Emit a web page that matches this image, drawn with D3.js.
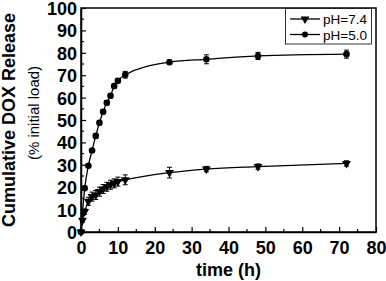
<!DOCTYPE html>
<html>
<head>
<meta charset="utf-8">
<script src="https://cdn.jsdelivr.net/npm/d3@7"></script>
<style>
  body { margin: 0; background: #fff; }
  text { font-family: "Liberation Sans", Arial, sans-serif; }
</style>
</head>
<body>
<svg id="chart" width="386" height="281"></svg>
<script>
// data
var time74 = [0, 0.4, 1, 2, 3, 4, 5, 6, 7, 8, 9, 10, 12, 24, 34, 48, 72];
var rel74  = [0, 5.2, 9.1, 13.7, 15.8, 16.5, 18, 19.2, 20.2, 21.1, 21.7, 22.5, 23.3, 26.5, 28.1, 29.2, 30.6];
var err74  = [0, 0.8, 1.2, 1.8, 2, 2, 2, 2, 2, 2, 2, 2, 2.2, 2.4, 1.2, 1.2, 1.2];
var time50 = [0, 1, 2, 3, 4, 5, 6, 7, 8, 9, 10, 12, 24, 34, 48, 72];
var rel50  = [0, 19.5, 29.6, 36.4, 42.9, 48.8, 53.7, 57.7, 60.8, 65.2, 67.5, 70.2, 75.8, 77.1, 78.6, 79.4];
var err50  = [0, 1, 0.8, 0.8, 1, 1, 1, 1, 1, 1, 1, 1.5, 1, 2, 1.6, 1.8];
var xTicks = [0, 10, 20, 30, 40, 50, 60, 70, 80];
var yTicks = [0, 10, 20, 30, 40, 50, 60, 70, 80, 90, 100];

var margin = {top: 8, right: 10, bottom: 49, left: 81};
var svg = d3.select("#chart");
var width = 386 - margin.left - margin.right;
var height = 281 - margin.top - margin.bottom;
var g = svg.append("g").attr("transform", "translate(" + margin.left + "," + margin.top + ")");

var x = d3.scaleLinear().domain([0, 80]).range([0, width]);
var y = d3.scaleLinear().domain([0, 100]).range([height, 0]);

function pts(t, v, e) {
  return t.map(function(d, i) { return {t: d, v: v[i], e: e[i]}; });
}
var s74 = pts(time74, rel74, err74);
var s50 = pts(time50, rel50, err50);

// frame
g.append("rect")
  .attr("width", width).attr("height", height)
  .attr("fill", "none").attr("stroke", "#000").attr("stroke-width", 1.5);

// minor ticks (inward)
var minorX = d3.range(5, 80, 10);
var minorY = d3.range(5, 100, 10);
g.selectAll(".mx").data(minorX).enter().append("line")
  .attr("x1", function(d) { return x(d); }).attr("x2", function(d) { return x(d); })
  .attr("y1", height).attr("y2", height - 3)
  .attr("stroke", "#000").attr("stroke-width", 1.2);
g.selectAll(".my").data(minorY).enter().append("line")
  .attr("y1", function(d) { return y(d); }).attr("y2", function(d) { return y(d); })
  .attr("x1", 0).attr("x2", 3)
  .attr("stroke", "#000").attr("stroke-width", 1.2);

// axes
var xAxis = g.append("g")
  .attr("transform", "translate(0," + height + ")")
  .call(d3.axisBottom(x).tickValues(xTicks).tickSizeInner(-5).tickSizeOuter(0).tickPadding(9));
var yAxis = g.append("g")
  .call(d3.axisLeft(y).tickValues(yTicks).tickSizeInner(-5).tickSizeOuter(0).tickPadding(4));
[xAxis, yAxis].forEach(function(a) {
  a.select(".domain").attr("stroke-width", 1.5);
  a.selectAll(".tick line").attr("stroke-width", 1.2);
  a.selectAll("text")
    .style("font-family", "'Liberation Sans', Arial, sans-serif")
    .style("font-size", "18px").style("font-weight", "bold").attr("fill", "#000");
});
yAxis.selectAll("text").attr("dy", "0.36em");

// labels
svg.append("text")
  .attr("x", margin.left + width / 2).attr("y", 276)
  .attr("text-anchor", "middle")
  .style("font-size", "18px").style("font-weight", "bold")
  .text("time (h)");
svg.append("text")
  .attr("transform", "translate(15," + (margin.top + height / 2) + ") rotate(-90)")
  .attr("text-anchor", "middle")
  .style("font-size", "18px").style("font-weight", "bold")
  .text("Cumulative DOX Release");
svg.append("text")
  .attr("transform", "translate(39,113) rotate(-90)")
  .attr("text-anchor", "middle")
  .style("font-size", "15px")
  .text("(% initial load)");

// curves
var line = d3.line()
  .x(function(d) { return x(d.t); })
  .y(function(d) { return y(d.v); })
  .curve(d3.curveMonotoneX);

[s74, s50].forEach(function(s) {
  g.append("path").datum(s)
    .attr("fill", "none").attr("stroke", "#000").attr("stroke-width", 1.3)
    .attr("d", line);
  // error bars
  var eb = g.selectAll(null).data(s.filter(function(d) { return d.e > 0; })).enter().append("g");
  eb.append("line")
    .attr("x1", function(d) { return x(d.t); }).attr("x2", function(d) { return x(d.t); })
    .attr("y1", function(d) { return y(d.v - d.e); }).attr("y2", function(d) { return y(d.v + d.e); })
    .attr("stroke", "#000").attr("stroke-width", 1);
  [-1, 1].forEach(function(sgn) {
    eb.append("line")
      .attr("x1", function(d) { return x(d.t) - 2.5; }).attr("x2", function(d) { return x(d.t) + 2.5; })
      .attr("y1", function(d) { return y(d.v + sgn * d.e); }).attr("y2", function(d) { return y(d.v + sgn * d.e); })
      .attr("stroke", "#000").attr("stroke-width", 1);
  });
});

var tri = d3.symbol().type(d3.symbolTriangle).size(34);
g.selectAll(".m74").data(s74).enter().append("path")
  .attr("d", tri)
  .attr("transform", function(d) { return "translate(" + x(d.t) + "," + y(d.v) + ") rotate(180)"; })
  .attr("fill", "#000");
g.selectAll(".m50").data(s50).enter().append("circle")
  .attr("cx", function(d) { return x(d.t); }).attr("cy", function(d) { return y(d.v); })
  .attr("r", 3.3).attr("fill", "#000");

// legend
var lg = svg.append("g");
lg.append("rect")
  .attr("x", 285.5).attr("y", 8.5).attr("width", 86).attr("height", 35.5)
  .attr("fill", "#fff").attr("stroke", "#000").attr("stroke-width", 0.8);
var legendNames = ["pH=7.4", "pH=5.0"];
legendNames.forEach(function(name, i) {
  var ly = 19 + i * 15.5;
  lg.append("line").attr("x1", 290).attr("x2", 320).attr("y1", ly).attr("y2", ly)
    .attr("stroke", "#000").attr("stroke-width", 1.3);
  if (i == 0) {
    lg.append("path").attr("d", tri).attr("transform", "translate(305," + ly + ") rotate(180)").attr("fill", "#000");
  } else {
    lg.append("circle").attr("cx", 305).attr("cy", ly).attr("r", 3).attr("fill", "#000");
  }
  lg.append("text").attr("x", 323).attr("y", ly + 5)
    .style("font-size", "13.5px").text(name);
});
</script>
</body>
</html>
